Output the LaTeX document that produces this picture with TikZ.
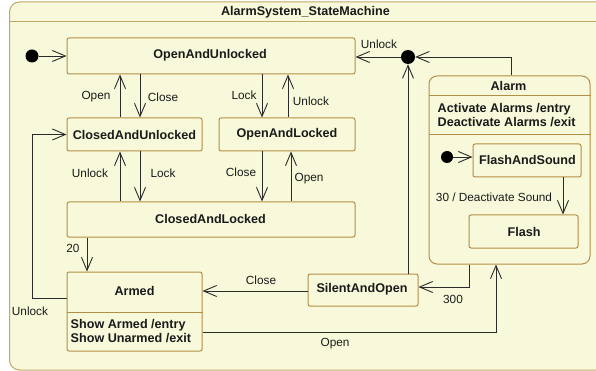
\documentclass[tikz,border=0pt]{standalone}
\usepackage{fontspec}
\setmainfont{Liberation Sans}
\usetikzlibrary{arrows.meta,calc}
\definecolor{statefill}{HTML}{F8F8DA}
\definecolor{stateedge}{HTML}{B38E45}
\definecolor{frameedge}{HTML}{C4A765}
\definecolor{wire}{HTML}{2B2B2B}
\definecolor{ink}{HTML}{1A1A1A}

\begin{document}
\begin{tikzpicture}[x=1pt,y=-1pt,
  stbox/.style={draw=stateedge, line width=1pt, fill=statefill, rounded corners=2pt,
    inner sep=0pt, text=ink, font=\bfseries\fontsize{12.6}{14}\selectfont},
  btxt/.style={inner sep=0pt, text=ink, font=\bfseries\fontsize{12.6}{14}\selectfont},
  lbl/.style={inner sep=0pt, text=ink, font=\fontsize{11.8}{14}\selectfont},
  trans/.style={draw=wire, line width=0.9pt,
    -{Straight Barb[length=13pt,width=11pt,line width=0.9pt]}},
  pseudo/.style={circle, fill=black, inner sep=0pt, minimum size=#1},
]
\useasboundingbox (0,0) rectangle (596,371);
\fill[white] (0,0) rectangle (596,371);

% enclosing state machine frame
\draw[frameedge, line width=1pt, fill=statefill, rounded corners=10pt]
  (9.5,2) rectangle (610,370);
\draw[frameedge, line width=1pt] (9.5,22) -- (596,22);
\node[btxt] (title) at (305.5,12) {AlarmSystem\_StateMachine};

% states
\node[stbox, minimum width=288pt, minimum height=36pt] (oau) at (211,56) {};
\node[btxt] (oaut) at (210,55) {OpenAndUnlocked};
\node[stbox, minimum width=135pt, minimum height=33pt] (cau) at (134.5,134.5) {ClosedAndUnlocked};
\node[stbox, minimum width=136pt, minimum height=33pt] (oal) at (287,134.5) {OpenAndLocked};
\node[stbox, minimum width=288pt, minimum height=35pt] (cal) at (211,219.5) {};
\node[btxt] (calt) at (210.5,218.5) {ClosedAndLocked};

% armed state with its compartment
\node[stbox, minimum width=135pt, minimum height=79pt] (armed) at (134.5,311.5) {};
\draw[stateedge, line width=1pt] (armed.west |- 0,312) -- (armed.east |- 0,312);
\node[btxt] (armedt) at (134.5,291) {Armed};
\node[btxt, anchor=west, align=left] (armedact) at (70.5,331)
  {Show Armed /entry\\Show Unarmed /exit};

\node[stbox, minimum width=110pt, minimum height=32pt] (sao) at (363,290) {};
\node[btxt] (saot) at (362,289) {SilentAndOpen};

% composite alarm state
\node[stbox, rounded corners=8pt, minimum width=161pt, minimum height=188pt] (alarm) at (509.5,170) {};
\draw[stateedge, line width=1pt] (alarm.west |- 0,96) -- (alarm.east |- 0,96);
\draw[stateedge, line width=1pt] (alarm.west |- 0,135) -- (alarm.east |- 0,135);
\node[btxt] (alarmt) at (508.5,86) {Alarm};
\node[btxt, anchor=west, align=left] (alarmact) at (437.5,115)
  {Activate Alarms /entry\\Deactivate Alarms /exit};
\node[stbox, minimum width=108pt, minimum height=33pt] (fas) at (527,160.5) {};
\node[btxt] (fast) at (527.5,160) {FlashAndSound};
\node[stbox, minimum width=109pt, minimum height=33pt] (flash) at (523.5,231.5) {};
\node[btxt] (flasht) at (524,231.5) {Flash};

% pseudostates
\node[pseudo=13pt] (init) at (32,56) {};
\node[pseudo=14pt] (junc) at (408,57) {};
\node[pseudo=12pt] (ainit) at (447,157) {};

% transitions
\draw[trans] (init) -- (oau.west |- init);
\draw[trans] (120,0 |- cau.north) -- (120,0 |- oau.south);
\draw[trans] (140,0 |- oau.south) -- (140,0 |- cau.north);
\draw[trans] (262,0 |- oau.south) -- (262,0 |- oal.north);
\draw[trans] (288,0 |- oal.north) -- (288,0 |- oau.south);
\draw[trans] (120,0 |- cal.north) -- (120,0 |- cau.south);
\draw[trans] (140,0 |- cau.south) -- (140,0 |- cal.north);
\draw[trans] (262,0 |- oal.south) -- (262,0 |- cal.north);
\draw[trans] (291,0 |- cal.north) -- (291,0 |- oal.south);
\draw[trans] (87,0 |- cal.south) -- (87,0 |- armed.north);
\draw[trans] (armed.west |- 0,298) -- (32,298) |- (cau.west);
\draw[trans] (sao.west |- 0,291) -- (armed.east |- 0,291);
\draw[trans] (junc |- sao.north) -- (junc);
\draw[trans] (511,0 |- alarm.north) |- (junc);
\draw[trans] (junc) -- (oau.east |- junc);
\draw[trans] (469,0 |- alarm.south) |- (sao.east |- 0,287);
\draw[trans] (armed.east |- 0,332) -| (496,0 |- alarm.south);
\draw[trans] (ainit) -- (fas.west |- ainit);
\draw[trans] (563,0 |- fas.south) -- (563,0 |- flash.north);

% transition labels
\node[lbl] (l1) at (96,97) {Open};
\node[lbl] (l2) at (163,97) {Close};
\node[lbl] (l3) at (244,95) {Lock};
\node[lbl] (l4) at (311,101) {Unlock};
\node[lbl] (l5) at (90,173) {Unlock};
\node[lbl] (l6) at (163,173) {Lock};
\node[lbl] (l7) at (241,172) {Close};
\node[lbl] (l8) at (309,179) {Open};
\node[lbl] (l9) at (73,248) {20};
\node[lbl] (l10) at (30,311) {Unlock};
\node[lbl] (l11) at (261,280) {Close};
\node[lbl] (l12) at (379,44) {Unlock};
\node[lbl] (l13) at (453,299) {300};
\node[lbl] (l14) at (335,344) {Open};
\node[lbl] (l15) at (494,197) {30 / Deactivate Sound};
\end{tikzpicture}
\end{document}
